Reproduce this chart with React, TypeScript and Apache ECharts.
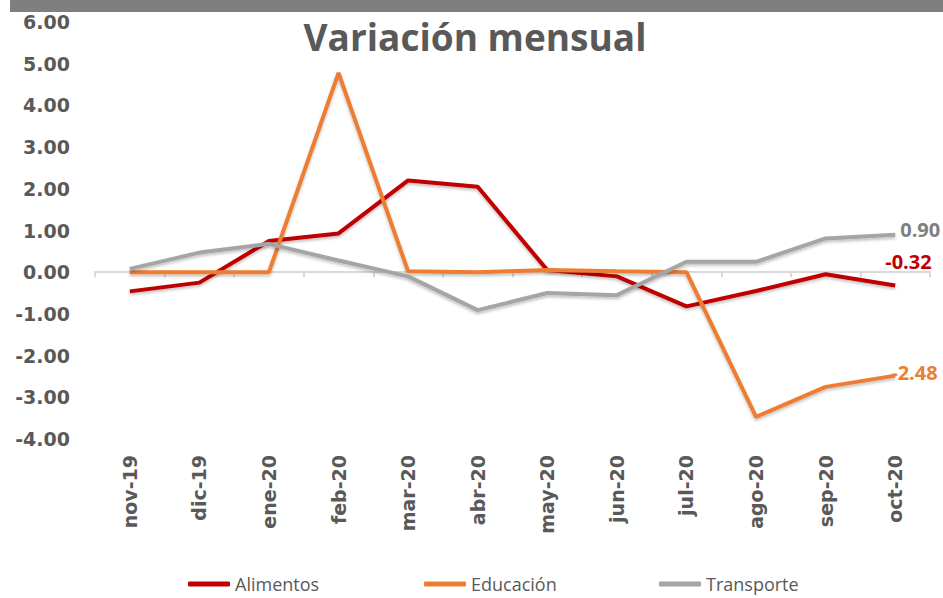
import React, { useEffect, useRef } from "react";
import * as echarts from "echarts";

const categories = ["nov-19", "dic-19", "ene-20", "feb-20", "mar-20", "abr-20", "may-20", "jun-20", "jul-20", "ago-20", "sep-20", "oct-20"];
const alimentos = [-0.46, -0.25, 0.75, 0.93, 2.2, 2.05, 0.05, -0.1, -0.82, -0.45, -0.05, -0.32];
const educacion = [0.0, 0.0, 0.0, 4.78, 0.02, 0.0, 0.05, 0.02, 0.0, -3.47, -2.75, -2.48];
const transporte = [0.08, 0.47, 0.68, 0.28, -0.1, -0.91, -0.5, -0.55, 0.25, 0.25, 0.81, 0.9];
const seriesNames = ["Alimentos", "Educación", "Transporte"];
const seriesColors = ["#C00000", "#ED7D31", "#A5A5A5"];
const endLabelColors = ["#C00000", "#ED7D31", "#7F7F7F"];
const endLabelOffsets = [[-18, -24], [-12, -3], [-3, -5]];
const legendLefts = [188, 424, 659];

export default function App() {
  const ref = useRef<HTMLDivElement>(null);
  useEffect(() => {
    const chart = echarts.init(ref.current!, null, { renderer: "svg" });
    const data = [alimentos, educacion, transporte];
    const series = seriesNames.map((name, i) => ({
      name,
      type: "line",
      data: data[i],
      xAxisIndex: 0,
      yAxisIndex: 0,
      showSymbol: false,
      symbol: "none",
      lineStyle: {
        width: 4,
        color: seriesColors[i],
        shadowColor: "rgba(0,0,0,0.25)",
        shadowBlur: 3,
        shadowOffsetY: 2,
      },
      itemStyle: { color: seriesColors[i] },
      endLabel: {
        show: true,
        formatter: (p: any) => Number(p.value).toFixed(2),
        color: endLabelColors[i],
        fontFamily: "Open Sans",
        fontWeight: "bold",
        fontSize: 20,
        offset: endLabelOffsets[i],
      },
      z: 2 + i,
    }));
    chart.setOption({
      animation: false,
      backgroundColor: "#ffffff",
      grid: { left: 95, right: 13, top: 22, bottom: 159, containLabel: false },
      xAxis: [
        {
          type: "category",
          data: categories,
          position: "bottom",
          boundaryGap: true,
          axisLine: { show: true, onZero: true, lineStyle: { color: "#D9D9D9", width: 2 } },
          axisTick: { show: true, length: 5, lineStyle: { color: "#D9D9D9", width: 2 } },
          axisLabel: { show: false },
          splitLine: { show: false },
        },
        {
          type: "category",
          data: categories,
          position: "bottom",
          boundaryGap: true,
          axisLine: { show: false, onZero: false },
          axisTick: { show: false },
          axisLabel: {
            show: true,
            rotate: 90,
            margin: 16,
            color: "#595959",
            fontFamily: "DejaVu Sans",
            fontWeight: "bold",
            fontSize: 19,
            interval: 0,
          },
          splitLine: { show: false },
        },
      ],
      yAxis: {
        type: "value",
        min: -4,
        max: 6,
        interval: 1,
        axisLine: { show: false },
        axisTick: { show: false },
        splitLine: { show: false },
        axisLabel: {
          margin: 25,
          color: "#595959",
          fontFamily: "DejaVu Sans",
          fontWeight: "bold",
          fontSize: 19,
          formatter: (v: number) => v.toFixed(2),
        },
      },
      legend: seriesNames.map((name, i) => ({
        data: [name],
        left: legendLefts[i],
        top: 574,
        padding: 0,
        icon: "roundRect",
        itemWidth: 42,
        itemHeight: 5,
        itemGap: 4,
        textStyle: { color: "#595959", fontFamily: "Open Sans", fontSize: 18, lineHeight: 20 },
        selectedMode: false,
      })),
      graphic: [
        { type: "rect", left: 10, top: 0, shape: { width: 933, height: 12 }, style: { fill: "#7F7F7F" }, silent: true },
        {
          type: "text",
          x: 475,
          y: 36,
          style: {
            text: "Variación mensual",
            fill: "#595959",
            font: "bold 37px 'Open Sans'",
            textAlign: "center",
            textVerticalAlign: "middle",
          },
        },
      ],
      series,
    });
    return () => chart.dispose();
  }, []);
  return <div ref={ref} style={{ position: "fixed", left: 0, top: 0, width: 943, height: 598 }} />;
}
